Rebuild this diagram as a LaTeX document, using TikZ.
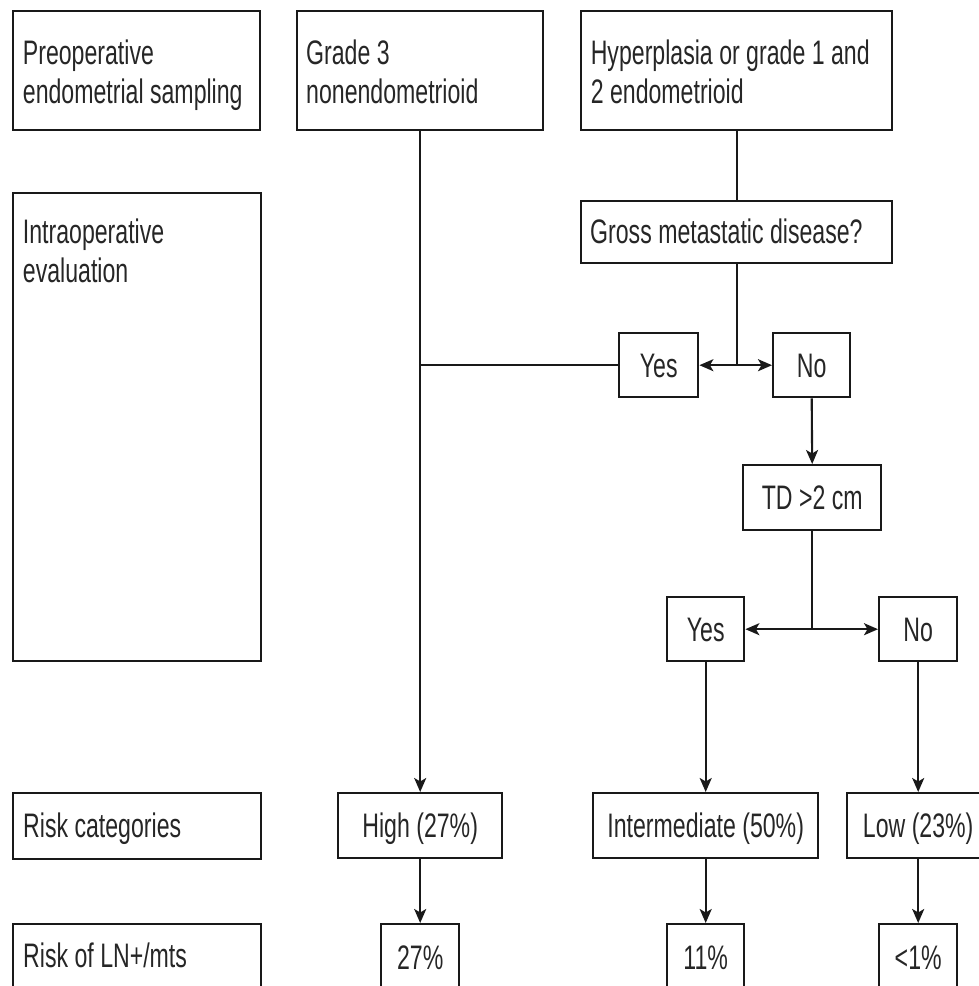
\documentclass[tikz,border=0pt]{standalone}
\usepackage{fontspec}
\setmainfont{Liberation Sans}[FakeStretch=0.68]
\usetikzlibrary{arrows.meta,calc}
\newcommand\fs{\fontsize{34}{39}\selectfont}
\newcommand\firstline{\rule{0pt}{25pt}}
\newcommand\mybox[6]{%
  \pgfmathsetmacro\bw{#4-#2}%
  \pgfmathsetmacro\bh{#5-#3}%
  \node[box,minimum width=\bw pt,minimum height=\bh pt] (#1) at (#2,#3) {#6};}
\definecolor{txtc}{gray}{0.15}
\definecolor{linec}{gray}{0.1}
\tikzset{
  box/.style={draw=linec, line width=2.4pt, inner sep=0pt, anchor=north west,
    font=\fs, text=txtc, text height=24.5pt, text depth=0pt},
  lbl/.style={inner sep=0pt, font=\fs, text=txtc, align=left},
  conn/.style={draw=linec, line width=2.1pt},
  arr/.style={conn, -{Stealth[length=14pt,width=12pt,inset=3.5pt]}}
}
\begin{document}
\begin{tikzpicture}[x=1pt,y=-1pt]
\useasboundingbox (0,0) rectangle (979,986);
\clip (0,0) rectangle (979,986);
% row 1
\mybox{pre}{12}{10}{259}{129}{}
\mybox{g3}{296}{10}{542}{129}{}
\mybox{hyp}{580}{10}{891}{129}{}
\node[lbl, anchor=north west] (pre-t) at (22.7,39) {\firstline Preoperative\\endometrial sampling};
\node[lbl, anchor=north west] (g3-t) at (306,39) {\firstline Grade 3\\nonendometrioid};
\node[lbl, anchor=north west] (hyp-t) at (590.6,39) {\firstline Hyperplasia or grade 1 and\\2 endometrioid};
% intraoperative
\mybox{intra}{12}{192}{260}{660}{}
\node[lbl, anchor=north west] (intra-t) at (22.7,218) {\firstline Intraoperative\\evaluation};
\mybox{gross}{580}{200}{891}{262}{}
\node[lbl, anchor=base west] (gross-t) at (590,243) {Gross metastatic disease?};
\mybox{yes1}{618}{332}{697}{396}{Yes}
\mybox{no1}{772}{332}{849}{396}{No}
\mybox{td}{742}{464}{880}{529}{TD >2 cm}
\mybox{yes2}{666}{596}{743}{660}{Yes}
\mybox{no2}{878}{596}{956}{660}{No}
% risk categories
\mybox{riskcat}{12}{792}{260}{858}{}
\node[lbl, anchor=base west] (riskcat-t) at (23,837) {Risk categories};
\mybox{high}{337}{792}{501}{857}{High (27\%)}
\mybox{inter}{592}{792}{817}{857}{Intermediate (50\%)}
\mybox{low}{846}{792}{988}{857}{Low (23\%)}
% risk of LN
\mybox{riskln}{12}{923}{260}{989}{}
\node[lbl, anchor=base west] (riskln-t) at (23,967) {Risk of LN+/mts};
\mybox{p27}{380}{923}{458}{989}{27\%}
\mybox{p11}{666}{923}{743}{989}{11\%}
\mybox{p1}{878}{923}{956}{989}{<1\%}
% connectors
\draw[arr] (g3.south) -- (high.north);
\draw[conn] (yes1.west) -- (g3.south |- yes1.west);
\draw[conn] (hyp.south) -- (gross.north);
\coordinate (j1) at (gross.south |- yes1.east);
\draw[conn] (gross.south) -- (j1);
\draw[arr] (j1) -- (yes1.east);
\draw[arr] (j1) -- (no1.west);
\draw[arr] (no1.south) -- (td.north);
\coordinate (j2) at (td.south |- yes2.east);
\draw[conn] (td.south) -- (j2);
\draw[arr] (j2) -- (yes2.east);
\draw[arr] (j2) -- (no2.west);
\draw[arr] (yes2.south) -- (inter.north);
\draw[arr] (no2.south) -- (low.north);
\draw[arr] (high.south) -- (p27.north);
\draw[arr] (inter.south) -- (p11.north);
\draw[arr] (low.south) -- (p1.north);
\end{tikzpicture}
\end{document}
